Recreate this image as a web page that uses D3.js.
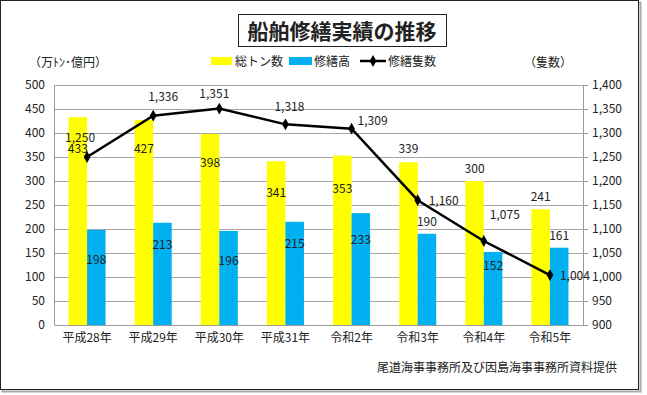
<!DOCTYPE html>
<html lang="ja">
<head>
<meta charset="UTF-8">
<title>船舶修繕実績の推移</title>
<script src="https://d3js.org/d3.v7.min.js"></script>
<style>
  body { margin: 0; background: #fff; }
  text { font-family: "Noto Sans CJK JP", "Noto Sans", sans-serif; fill: #222; }
</style>
</head>
<body>
<svg width="647" height="395"></svg>
<script>
// data
var years = ["平成28年", "平成29年", "平成30年", "平成31年", "令和2年", "令和3年", "令和4年", "令和5年"];
var tonnage = [433, 427, 398, 341, 353, 339, 300, 241];   // 総トン数 (万トン)
var repairAmount = [198, 213, 196, 215, 233, 190, 152, 161]; // 修繕高 (億円)
var shipCount = [1250, 1336, 1351, 1318, 1309, 1160, 1075, 1004]; // 修繕隻数
var leftTicks = [0, 50, 100, 150, 200, 250, 300, 350, 400, 450, 500];
var rightTicks = [900, 950, 1000, 1050, 1100, 1150, 1200, 1250, 1300, 1350, 1400];

// label nudges (px, relative to the mark)
var tonLabelDy = [32, 29, 29, 32, 33, -13, -12, -12];
var amtLabelDy = [30, 22, 30, 22, 27, -12, 14, -12];
var cntLabelDx = [-7, 10, -5, 4, 21, 26, 21, 25];
var cntLabelDy = [-19, -19, -15, -17, -8, 1, -26, 1];

var svg = d3.select("svg");
var plotL = 54, plotR = 583, plotT = 85, plotB = 325;

// frame
svg.append("rect").attr("x", 2.5).attr("y", 2.5).attr("width", 638).attr("height", 389)
  .attr("fill", "none").attr("stroke", "#aaa").attr("stroke-width", 2);
svg.append("rect").attr("x", 0.5).attr("y", 0.5).attr("width", 638).attr("height", 389)
  .attr("fill", "#fff").attr("stroke", "#222");

var x = d3.scaleBand().domain(years).range([plotL, plotR]).paddingInner(0).paddingOuter(0);
var yL = d3.scaleLinear().domain([0, 500]).range([plotB, plotT]);
var yR = d3.scaleLinear().domain([900, 1400]).range([plotB, plotT]);
var barW = x.bandwidth() * 0.28;

// grid
svg.append("g").selectAll("line").data(leftTicks.slice(1)).enter().append("line")
  .attr("x1", plotL).attr("x2", plotR)
  .attr("y1", function(d) { return Math.round(yL(d)) + 0.5; })
  .attr("y2", function(d) { return Math.round(yL(d)) + 0.5; })
  .attr("stroke", "#a6a6a6").attr("stroke-width", 1);

// axes
var axL = svg.append("g").attr("transform", "translate(" + plotL + ",0)")
  .call(d3.axisLeft(yL).tickValues(leftTicks).tickSize(0).tickPadding(9));
var axR = svg.append("g").attr("transform", "translate(" + plotR + ",0)")
  .call(d3.axisRight(yR).tickValues(rightTicks).tickSize(5).tickPadding(4).tickFormat(d3.format(",")));
var axB = svg.append("g").attr("transform", "translate(0," + plotB + ")")
  .call(d3.axisBottom(x).tickSize(0).tickPadding(6));
[axL, axR, axB].forEach(function(a) {
  a.selectAll("path").attr("stroke", "#9a9a9a");
  a.selectAll("line").attr("stroke", "#9a9a9a");
  a.selectAll("text").attr("font-size", 12).attr("fill", "#222")
    .attr("font-family", "'Noto Sans CJK JP', sans-serif");
});
axB.selectAll("text").attr("dy", "0.9em");

// bars
svg.append("g").selectAll("rect").data(tonnage).enter().append("rect")
  .attr("x", function(d, i) { return x(years[i]) + x.bandwidth() / 2 - barW; })
  .attr("y", function(d) { return yL(d); })
  .attr("width", barW).attr("height", function(d) { return plotB - yL(d); })
  .attr("fill", "#ffff00");
svg.append("g").selectAll("rect").data(repairAmount).enter().append("rect")
  .attr("x", function(d, i) { return x(years[i]) + x.bandwidth() / 2; })
  .attr("y", function(d) { return yL(d); })
  .attr("width", barW).attr("height", function(d) { return plotB - yL(d); })
  .attr("fill", "#00b0f0");

// line
var cx = function(d, i) { return x(years[i]) + x.bandwidth() / 2; };
svg.append("path").datum(shipCount)
  .attr("d", d3.line().x(cx).y(function(d) { return yR(d); }))
  .attr("fill", "none").attr("stroke", "#000").attr("stroke-width", 2.5);
svg.append("g").selectAll("path").data(shipCount).enter().append("path")
  .attr("d", d3.symbol(d3.symbolDiamond, 40))
  .attr("transform", function(d, i) { return "translate(" + cx(d, i) + "," + yR(d) + ")"; })
  .attr("fill", "#000");

// data labels
var lab = svg.append("g").attr("font-size", 12).attr("text-anchor", "middle");
lab.selectAll(".t").data(tonnage).enter().append("text")
  .attr("x", function(d, i) { return cx(d, i) - barW / 2; })
  .attr("y", function(d, i) { return yL(d) + tonLabelDy[i] + 4; })
  .text(function(d) { return d; });
lab.selectAll(".a").data(repairAmount).enter().append("text")
  .attr("x", function(d, i) { return cx(d, i) + barW / 2; })
  .attr("y", function(d, i) { return yL(d) + amtLabelDy[i] + 4; })
  .text(function(d) { return d; });
lab.selectAll(".c").data(shipCount).enter().append("text")
  .attr("x", function(d, i) { return cx(d, i) + cntLabelDx[i]; })
  .attr("y", function(d, i) { return yR(d) + cntLabelDy[i] + 4; })
  .text(function(d) { return d3.format(",")(d); });

// title
svg.append("rect").attr("x", 238.5).attr("y", 14.5).attr("width", 208).attr("height", 32)
  .attr("fill", "#fff").attr("stroke", "#222");
svg.append("text").attr("x", 342).attr("y", 39).attr("text-anchor", "middle")
  .attr("font-size", 21).attr("font-weight", "bold").attr("fill", "#000")
  .text("船舶修繕実績の推移");

// unit labels
svg.append("text").attr("x", 29).attr("y", 67).attr("font-size", 12).text("（万ﾄﾝ･億円）");
svg.append("text").attr("x", 524).attr("y", 67).attr("font-size", 12).text("（隻数）");

// legend
var lg = svg.append("g").attr("font-size", 12);
lg.append("rect").attr("x", 211).attr("y", 57).attr("width", 21).attr("height", 8).attr("fill", "#ffff00");
lg.append("text").attr("x", 235).attr("y", 66).text("総トン数");
lg.append("rect").attr("x", 289).attr("y", 57).attr("width", 23).attr("height", 8).attr("fill", "#00b0f0");
lg.append("text").attr("x", 314).attr("y", 66).text("修繕高");
lg.append("line").attr("x1", 360).attr("x2", 386).attr("y1", 61).attr("y2", 61)
  .attr("stroke", "#000").attr("stroke-width", 2.5);
lg.append("path").attr("d", d3.symbol(d3.symbolDiamond, 40)).attr("transform", "translate(373,61)");
lg.append("text").attr("x", 388).attr("y", 66).text("修繕隻数");

// source
svg.append("text").attr("x", 617).attr("y", 372).attr("text-anchor", "end").attr("font-size", 12)
  .text("尾道海事事務所及び因島海事事務所資料提供");
</script>
</body>
</html>
